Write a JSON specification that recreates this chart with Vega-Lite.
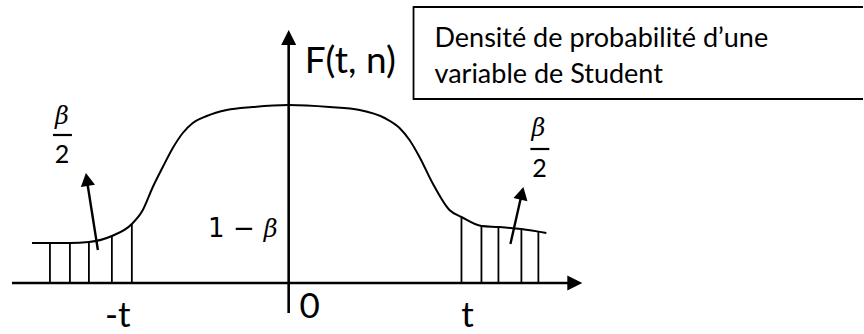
{
  "$schema": "https://vega.github.io/schema/vega-lite/v6.json",
  "width": 864,
  "height": 334,
  "padding": 0,
  "autosize": {"type": "fit", "contains": "padding"},
  "background": "white",
  "config": {"view": {"stroke": null}},
  "datasets": {
    "curve": [
      {"x": -2.57, "y": 0.40}, {"x": -2.39, "y": 0.40}, {"x": -2.19, "y": 0.40},
      {"x": -2.00, "y": 0.41}, {"x": -1.77, "y": 0.47}, {"x": -1.57, "y": 0.59},
      {"x": -1.46, "y": 0.73}, {"x": -1.36, "y": 0.96}, {"x": -1.26, "y": 1.16},
      {"x": -1.16, "y": 1.35}, {"x": -1.06, "y": 1.50}, {"x": -0.96, "y": 1.60},
      {"x": -0.82, "y": 1.67}, {"x": -0.62, "y": 1.73}, {"x": -0.36, "y": 1.76},
      {"x": 0.00, "y": 1.78}, {"x": 0.41, "y": 1.76}, {"x": 0.71, "y": 1.73},
      {"x": 0.96, "y": 1.65}, {"x": 1.11, "y": 1.55}, {"x": 1.21, "y": 1.43},
      {"x": 1.31, "y": 1.26}, {"x": 1.44, "y": 1.00}, {"x": 1.61, "y": 0.73},
      {"x": 1.73, "y": 0.66}, {"x": 1.93, "y": 0.57}, {"x": 2.10, "y": 0.56},
      {"x": 2.33, "y": 0.54}, {"x": 2.58, "y": 0.50}
    ],
    "hatch": [
      {"x": -2.39, "y": 0.40}, {"x": -2.19, "y": 0.40}, {"x": -2.00, "y": 0.41},
      {"x": -1.77, "y": 0.47}, {"x": -1.57, "y": 0.59},
      {"x": 1.73, "y": 0.66}, {"x": 1.93, "y": 0.57}, {"x": 2.10, "y": 0.56},
      {"x": 2.33, "y": 0.54}, {"x": 2.50, "y": 0.51}
    ],
    "axes": [
      {"seg": "t", "x": -2.77, "y": 0}, {"seg": "t", "x": 2.90, "y": 0},
      {"seg": "F", "x": 0, "y": -0.30}, {"seg": "F", "x": 0, "y": 2.49}
    ],
    "pointers": [
      {"seg": "left", "x": -1.91, "y": 0.33}, {"seg": "left", "x": -2.025, "y": 1.06},
      {"seg": "right", "x": 2.22, "y": 0.39}, {"seg": "right", "x": 2.34, "y": 0.92}
    ],
    "tips": [
      {"tip": "t", "x": 2.94, "y": 0},
      {"tip": "F", "x": 0, "y": 2.53},
      {"tip": "left", "x": -2.03, "y": 1.10},
      {"tip": "right", "x": 2.35, "y": 0.96}
    ],
    "bars": [
      {"x": -2.36, "x2": -2.17, "y": 1.48},
      {"x": 2.42, "x2": 2.61, "y": 1.34}
    ],
    "boxEdges": [
      {"x": 1.25, "x2": 5.75, "y": 2.76},
      {"x": 1.25, "x2": 5.75, "y": 1.84}
    ],
    "boxSide": [
      {"x": 1.25, "y": 2.76, "y2": 1.84}
    ],
    "title": [
      {"label": "F(t, n)", "x": 0.16, "y": 2.10}
    ],
    "labels": [
      {"label": "-t", "x": -1.71, "y": -0.44},
      {"label": "t", "x": 1.79, "y": -0.44},
      {"label": "0", "x": 0.21, "y": -0.35}
    ],
    "caption": [
      {"label": "Densité de probabilité d’une", "x": 1.46, "y": 2.36},
      {"label": "variable de Student", "x": 1.46, "y": 2.00}
    ],
    "math": [
      {"label": "1 −", "x": -0.34, "y": 0.46}
    ],
    "greek": [
      {"label": "β", "x": -0.18, "y": 0.46},
      {"label": "β", "x": -2.27, "y": 1.59},
      {"label": "β", "x": 2.50, "y": 1.47}
    ],
    "digits": [
      {"label": "2", "x": -2.27, "y": 1.20},
      {"label": "2", "x": 2.51, "y": 1.06}
    ]
  },
  "encoding": {
    "x": {"field": "x", "type": "quantitative", "axis": null,
          "scale": {"domain": [-2.89, 5.75], "nice": false, "zero": false}},
    "y": {"field": "y", "type": "quantitative", "axis": null,
          "scale": {"domain": [-0.51, 2.83], "nice": false, "zero": false}}
  },
  "layer": [
    {
      "data": {"name": "boxEdges"},
      "mark": {"type": "rule", "color": "black", "strokeWidth": 1.8},
      "encoding": {"x2": {"field": "x2"}}
    },
    {
      "data": {"name": "boxSide"},
      "mark": {"type": "rule", "color": "black", "strokeWidth": 1.8, "strokeCap": "square"},
      "encoding": {"y2": {"field": "y2"}}
    },
    {
      "data": {"name": "hatch"},
      "mark": {"type": "rule", "color": "black", "strokeWidth": 1.8},
      "encoding": {"y2": {"datum": 0}}
    },
    {
      "data": {"name": "curve"},
      "mark": {"type": "line", "color": "black", "strokeWidth": 2, "interpolate": "monotone"},
      "encoding": {}
    },
    {
      "data": {"name": "axes"},
      "mark": {"type": "line", "color": "black", "strokeWidth": 2.6},
      "encoding": {"detail": {"field": "seg"}}
    },
    {
      "data": {"name": "pointers"},
      "mark": {"type": "line", "color": "black", "strokeWidth": 2.4},
      "encoding": {"detail": {"field": "seg"}}
    },
    {
      "data": {"name": "tips"},
      "transform": [{"filter": "datum.tip === 't'"}],
      "mark": {"type": "point", "shape": "M0,0L-2,-1L-2,1Z", "size": 225, "filled": true,
               "color": "black", "opacity": 1, "angle": 0}
    },
    {
      "data": {"name": "tips"},
      "transform": [{"filter": "datum.tip === 'F'"}],
      "mark": {"type": "point", "shape": "M0,0L-2,-1L-2,1Z", "size": 225, "filled": true,
               "color": "black", "opacity": 1, "angle": 270}
    },
    {
      "data": {"name": "tips"},
      "transform": [{"filter": "datum.tip === 'left'"}],
      "mark": {"type": "point", "shape": "M0,0L-2,-1.1L-2,1.1Z", "size": 170, "filled": true,
               "color": "black", "opacity": 1, "angle": 261}
    },
    {
      "data": {"name": "tips"},
      "transform": [{"filter": "datum.tip === 'right'"}],
      "mark": {"type": "point", "shape": "M0,0L-2,-1.1L-2,1.1Z", "size": 170, "filled": true,
               "color": "black", "opacity": 1, "angle": 283}
    },
    {
      "data": {"name": "bars"},
      "mark": {"type": "rule", "color": "black", "strokeWidth": 2.2},
      "encoding": {"x2": {"field": "x2"}}
    },
    {
      "data": {"name": "title"},
      "mark": {"type": "text", "font": "Lato", "fontSize": 37, "align": "left", "baseline": "alphabetic", "color": "black"},
      "encoding": {"text": {"field": "label"}}
    },
    {
      "data": {"name": "labels"},
      "mark": {"type": "text", "font": "Lato", "fontSize": 35, "align": "center", "baseline": "alphabetic", "color": "black"},
      "encoding": {"text": {"field": "label"}}
    },
    {
      "data": {"name": "caption"},
      "mark": {"type": "text", "font": "Lato", "fontSize": 27, "align": "left", "baseline": "alphabetic", "color": "black"},
      "encoding": {"text": {"field": "label"}}
    },
    {
      "data": {"name": "math"},
      "mark": {"type": "text", "font": "DejaVu Sans", "fontSize": 26, "align": "right", "baseline": "alphabetic", "color": "black"},
      "encoding": {"text": {"field": "label"}}
    },
    {
      "data": {"name": "greek"},
      "mark": {"type": "text", "font": "DejaVu Serif", "fontStyle": "italic", "fontSize": 24, "align": "center", "baseline": "alphabetic", "color": "black"},
      "encoding": {"text": {"field": "label"}}
    },
    {
      "data": {"name": "digits"},
      "mark": {"type": "text", "font": "Lato", "fontSize": 25, "align": "center", "baseline": "alphabetic", "color": "black"},
      "encoding": {"text": {"field": "label"}}
    }
  ]
}
